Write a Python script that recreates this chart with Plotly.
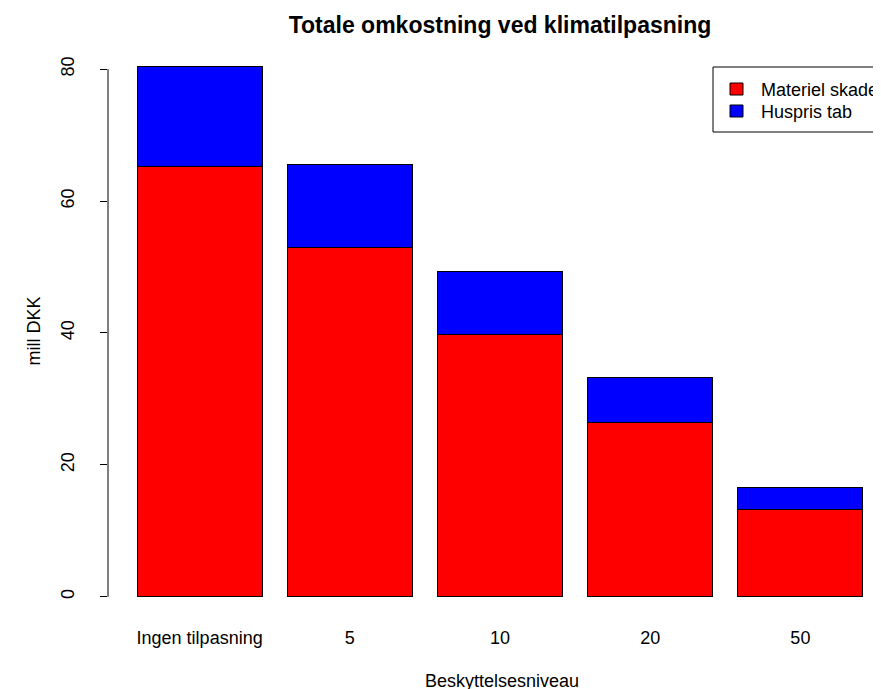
import plotly.graph_objects as go

categories = ["Ingen tilpasning", "5", "10", "20", "50"]
materiel_skade = [65.3, 53.0, 39.7, 26.5, 13.3]
huspris_tab = [15.15, 12.6, 9.7, 6.7, 3.2]
y_ticks = [0, 20, 40, 60, 80]
series_names = ["Materiel skade", "Huspris tab"]
series_colors = ["#FF0000", "#0000FF"]

FONT = "Liberation Sans, Arial, sans-serif"

fig = go.Figure()
for name, vals, col in zip(series_names, [materiel_skade, huspris_tab], series_colors):
    fig.add_trace(go.Bar(x=categories, y=vals, name=name, showlegend=False,
                         marker=dict(color=col, line=dict(color="black", width=1))))

# page body has an 8px default margin; figure coords = page coords - 8
OFF = 8
W, H = 890, 681
ml, mr, mt, mb = 100, 6, 37, 71
pw = W - ml - mr
ph = H - mt - mb


def px(xabs):
    return (xabs - OFF - ml) / pw


def py(yabs):
    return 1 - (yabs - OFF - mt) / ph


fig.update_layout(
    width=W, height=H, barmode="stack", bargap=1 - 1 / 1.2,
    margin=dict(l=ml, r=mr, t=mt, b=mb),
    paper_bgcolor="white", plot_bgcolor="white",
    font=dict(family=FONT, size=18, color="black"),
    title=dict(text="<b>Totale omkostning ved klimatilpasning</b>",
               x=(500 - OFF) / W, xref="container", xanchor="center",
               y=1 - (25 - OFF) / H, yref="container", yanchor="middle",
               font=dict(size=23, family=FONT, color="black")),
    xaxis=dict(range=[-0.61, 4.61], showline=False, showgrid=False, zeroline=False,
               ticks="", ticklabelstandoff=7, tickfont=dict(size=18)),
    yaxis=dict(range=[-3.22, 83.67], showline=False, showgrid=False, zeroline=False,
               tickvals=y_ticks, ticktext=[str(v) for v in y_ticks],
               ticks="outside", ticklen=7, tickcolor="black", tickwidth=1,
               tickangle=-90, ticklabelstandoff=19, tickfont=dict(size=18)),
    showlegend=False,
)

# y axis line spanning the tick range only (R style)
fig.add_shape(type="line", xref="paper", yref="y", x0=0, x1=0,
              y0=min(y_ticks), y1=max(y_ticks), line=dict(color="black", width=1))

# legend box (extends beyond the page edge, as in the reference)
fig.add_shape(type="rect", xref="paper", yref="paper",
              x0=px(713), x1=px(900), y0=py(132), y1=py(67),
              line=dict(color="black", width=1), fillcolor="white")
for i, (name, col) in enumerate(zip(series_names, series_colors)):
    cy = 89 + 22 * i
    fig.add_shape(type="rect", xref="paper", yref="paper",
                  x0=px(730), x1=px(743), y0=py(cy + 6), y1=py(cy - 6),
                  line=dict(color="black", width=1), fillcolor=col)
    fig.add_annotation(text=name, xref="paper", yref="paper", x=px(759), y=py(cy + 0.5),
                       xanchor="left", yanchor="middle", showarrow=False,
                       font=dict(size=18))

fig.add_annotation(text="mill DKK", xref="paper", yref="paper",
                   x=px(33), y=0.5, textangle=-90, showarrow=False,
                   xanchor="center", yanchor="middle", font=dict(size=18))
fig.add_annotation(text="Beskyttelsesniveau", xref="paper", yref="paper",
                   x=px(502), y=py(681), showarrow=False,
                   xanchor="center", yanchor="middle", font=dict(size=18))

fig.write_html("out.html")
